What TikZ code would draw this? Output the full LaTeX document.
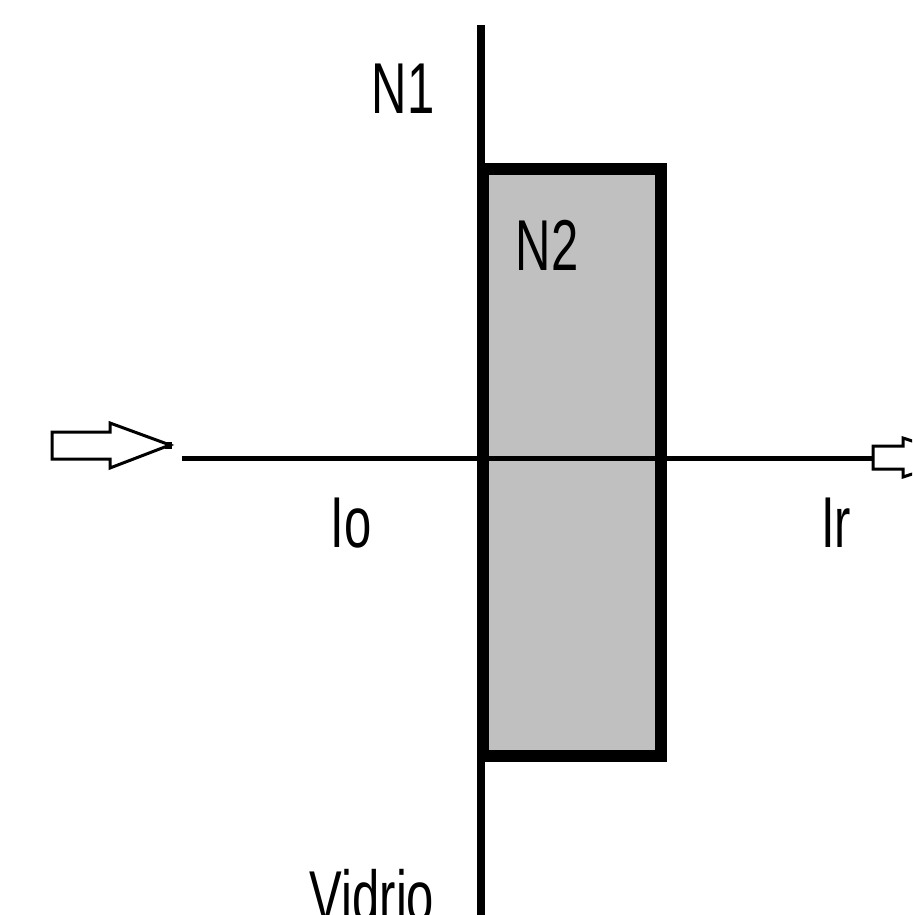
\documentclass[tikz,border=0pt]{standalone}
\usepackage{fontspec}
\setmainfont{Liberation Sans}
\usetikzlibrary{positioning, calc}
\definecolor{capagris}{RGB}{192,192,192}
\newcommand{\estrecho}[1]{\scalebox{0.68}[1]{#1}}

\begin{document}
\begin{tikzpicture}[
    etiqueta/.style={inner sep=0pt, font=\fontsize{20.5}{24}\selectfont},
    flecha/.style={draw=black, line width=0.03cm, fill=white, line join=miter},
  ]
    % Frame
    \useasboundingbox (0,0) rectangle (9.12,-9.15);
    \clip (0,0) rectangle (9.12,-9.15);

    % Glass surface
    \draw[line width=0.08cm] (4.81,-0.25) -- (4.81,-9.3);

    % Thin layer N2
    \node[draw, fill=capagris, line width=0.12cm, minimum width=1.78cm,
          minimum height=5.87cm] (capa) at (5.72,-4.625) {};

    % Light path
    \coordinate (entrada) at (1.82,-4.58);
    \coordinate (salida) at (8.73,-4.58);
    \draw[line width=0.05cm] (entrada) -- (salida);

    % Incident arrow
    \draw[flecha] (0.52,-4.32) -- (1.10,-4.32) -- (1.10,-4.23) -- (1.70,-4.45)
        -- (1.10,-4.68) -- (1.10,-4.59) -- (0.52,-4.59) -- cycle;
    \fill (1.65,-4.42) rectangle (1.72,-4.49);

    % Transmitted arrow
    \draw[flecha] (8.73,-4.46) -- (9.03,-4.46) -- (9.03,-4.38) -- (9.63,-4.575)
        -- (9.03,-4.77) -- (9.03,-4.69) -- (8.73,-4.69) -- cycle;

    % Labels
    \node[etiqueta] (n1) at (4.03,-0.89) {\estrecho{N1}};
    \node[etiqueta] (n2) at (5.47,-2.45) {\estrecho{N2}};
    \node[etiqueta] (io) at (3.51,-5.23) {\estrecho{Io}};
    \node[etiqueta] (ir) at (8.36,-5.23) {\estrecho{Ir}};
    \node[etiqueta] (vidrio) at (3.72,-8.96) {\estrecho{Vidrio}};
\end{tikzpicture}
\end{document}
